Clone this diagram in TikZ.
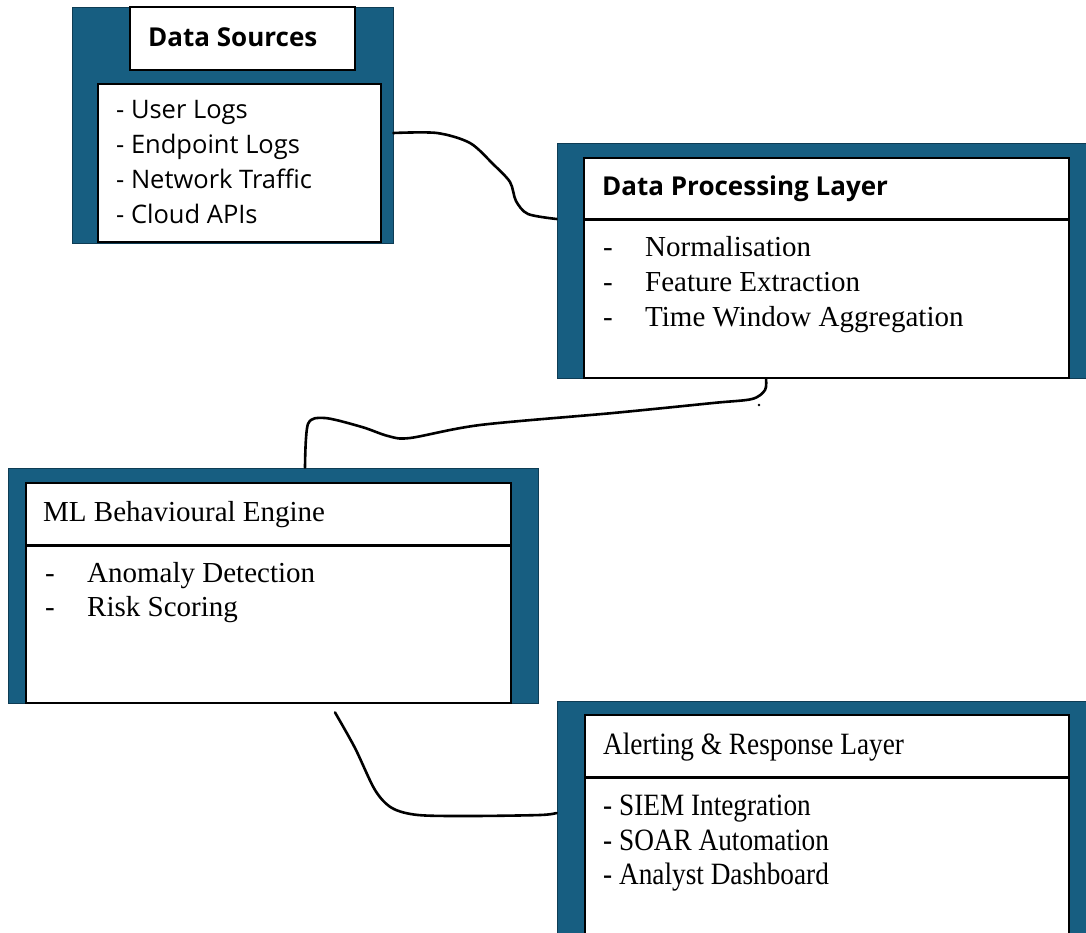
\documentclass[tikz,border=0pt]{standalone}
\usepackage{fontspec}
\setmainfont{Liberation Serif}
\newfontfamily\headsans{Open Sans}
\newfontfamily\narrowserif{Liberation Serif}[FakeStretch=0.88]
\usepackage{xcolor}
\usepackage{tikz}
\usetikzlibrary{positioning,fit,calc}

\definecolor{panelblue}{RGB}{23,94,129}
\definecolor{paneledge}{RGB}{14,60,84}
\newcommand{\tabdash}{\makebox[42pt][l]{-}}

\begin{document}
\begin{tikzpicture}[
  x=1pt, y=-1pt,
  panel/.style={draw=paneledge, fill=panelblue, line width=0.8pt, inner sep=0pt},
  card/.style={draw=black, fill=white, line width=1.2pt, inner sep=0pt},
  divider/.style={line width=2.6pt},
  wire/.style={line width=2.6pt, line cap=round, line join=round},
  title/.style={anchor=base west, inner sep=0pt, font=\headsans\bfseries\fontsize{26}{30}\selectfont},
  sitem/.style={anchor=base west, inner sep=0pt, font=\headsans\fontsize{25.5}{30}\selectfont},
  ritem/.style={anchor=base west, inner sep=0pt, font=\fontsize{29}{34}\selectfont},
  nitem/.style={anchor=base west, inner sep=0pt, font=\narrowserif\fontsize{31}{36}\selectfont}
]
\clip (0,0) rectangle (1086,932);
\fill[white] (0,0) rectangle (1086,932);

% data sources
\node[panel, fit={(72,7) (393,243)}] (srcpanel) {};
\node[card, fit={(130,7) (355,70)}] (srchead) {};
\node[card, fit={(98,84) (381,242)}] (srcbody) {};
\node[title] (srctitle) at (148,46) {Data Sources};
\node[sitem] (srcuser) at (116,118) {- User Logs};
\node[sitem] (srcend) at (116,153) {- Endpoint Logs};
\node[sitem] (srcnet) at (116,188) {- Network Traffic};
\node[sitem] (srccloud) at (116,223) {- Cloud APIs};

% processing layer
\node[panel, fit={(557,143) (1090,378)}] (procpanel) {};
\node[card, fit={(584,158) (1069,219)}] (prochead) {};
\node[card, fit={(584,219) (1069,378)}] (procbody) {};
\draw[divider] (prochead.south west) -- (prochead.south east);
\node[title] (proctitle) at (602,195) {Data Processing Layer};
\node[ritem] (procnorm) at (603,256) {\tabdash Normalisation};
\node[ritem] (procfeat) at (603,291) {\tabdash Feature Extraction};
\node[ritem] (procwin) at (603,326) {\tabdash Time Window Aggregation};

% ml engine
\node[panel, fit={(8,468) (538,703)}] (mlpanel) {};
\node[card, fit={(26,483) (511,545)}] (mlhead) {};
\node[card, fit={(26,545) (511,703)}] (mlbody) {};
\draw[divider] (mlhead.south west) -- (mlhead.south east);
\node[ritem] (mltitle) at (43,521) {ML Behavioural Engine};
\node[ritem] (mlanom) at (45,582) {\tabdash Anomaly Detection};
\node[ritem] (mlrisk) at (45,616) {\tabdash Risk Scoring};

% alerting layer
\node[panel, fit={(557,701) (1090,940)}] (alertpanel) {};
\node[card, fit={(585,715) (1069,777)}] (alerthead) {};
\node[card, fit={(585,777) (1069,940)}] (alertbody) {};
\draw[divider] (alerthead.south west) -- (alerthead.south east);
\node[nitem] (alerttitle) at (603,754) {Alerting \& Response Layer};
\node[nitem] (alertsiem) at (603,815) {- SIEM Integration};
\node[nitem] (alertsoar) at (603,850) {- SOAR Automation};
\node[nitem] (alertdash) at (603,884) {- Analyst Dashboard};

% hand drawn links
\draw[wire] plot[smooth, tension=0.5] coordinates {(srcpanel.east |- 0,133) (437,133) (470,143) (493,164) (510,182) (516,201) (528,214) (procpanel.west |- 0,219)};
\draw[wire] plot[smooth, tension=0.5] coordinates {(procpanel.south -| 766,0) (765,390) (752,399) (713,403) (613,413) (480,425) (410,438) (388,436) (362,427) (325,418) (308,424) (mlpanel.north -| 305,0)};
\draw[wire] plot[smooth, tension=0.5] coordinates {($(mlpanel.south -| 335,0)+(0,9)$) (355,748) (375,790) (392,808) (418,815) (470,816) (540,815) (alertpanel.west |- 0,813)};
\fill (759,405) circle (1.4pt);
\end{tikzpicture}
\end{document}
